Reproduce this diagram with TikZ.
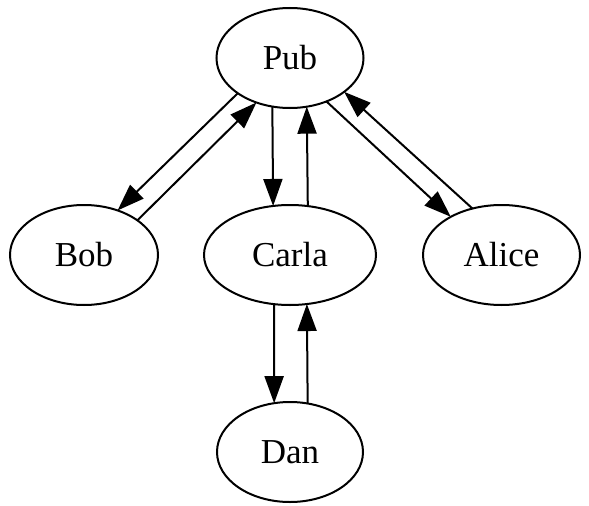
\documentclass[tikz,border=0pt]{standalone}
\usepackage{fontspec}
\setmainfont{Liberation Serif}
\usetikzlibrary{shapes.geometric,arrows.meta}
\begin{document}
\begin{tikzpicture}[x=1pt,y=-1pt,
  person/.style={ellipse,draw,line width=2pt,inner sep=0pt,outer sep=0pt,
    minimum height=100pt,font=\fontsize{35}{40}\selectfont},
  link/.style={line width=2pt,-{Triangle[length=27pt,width=19pt]}}]
\useasboundingbox (0,0) rectangle (589,506);
% people and the pub
\node[person,minimum width=147pt] (pub)   at (290,58)    {Pub};
\node[person,minimum width=148pt] (bob)   at (84,255)    {Bob};
\node[person,minimum width=172pt] (carla) at (290,255)   {Carla};
\node[person,minimum width=157pt] (alice) at (501.5,255) {Alice};
\node[person,minimum width=146pt] (dan)   at (290,452)   {Dan};
% trips there and back
\draw[link] (pub.214)   -- (bob.53.6);
\draw[link] (bob.33.4)  -- (pub.233.6);
\draw[link] (pub.250.7) -- (carla.109.1);
\draw[link] (carla.70.9) -- (pub.289.3);
\draw[link] (pub.310.6) -- (alice.143.8);
\draw[link] (alice.122.5) -- (pub.328.9);
\draw[link] (carla.252) -- (dan.108.2);
\draw[link] (dan.70.7)  -- (carla.289.1);
\end{tikzpicture}
\end{document}
